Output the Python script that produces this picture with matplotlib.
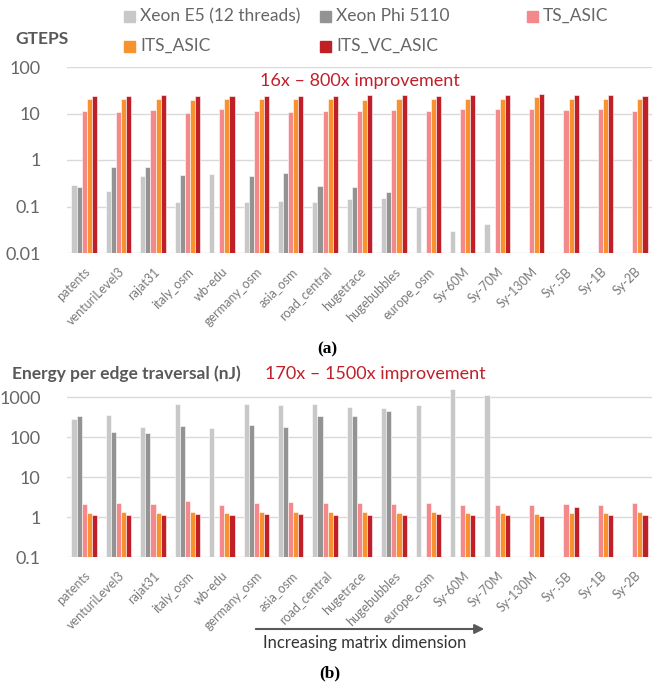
import numpy as np
import matplotlib
matplotlib.use("Agg")
import matplotlib.pyplot as plt
from matplotlib.patches import Rectangle

plt.rcParams['font.family'] = ['Lato', 'DejaVu Sans']

W, H = 654, 683

graphs = ['patents', 'venturiLevel3', 'rajat31', 'italy_osm', 'wb-edu', 'germany_osm',
          'asia_osm', 'road_central', 'hugetrace', 'hugebubbles', 'europe_osm',
          'Sy-60M', 'Sy-70M', 'Sy-130M', 'Sy-.5B', 'Sy-1B', 'Sy-2B']
series = ['Xeon E5 (12 threads)', 'Xeon Phi 5110', 'TS_ASIC', 'ITS_ASIC', 'ITS_VC_ASIC']
colors = ['#c8c8c8', '#939393', '#f4898b', '#f7922f', '#c01f28']

nan = np.nan
# throughput (GTEPS)
gteps_e5 = [0.29, 0.22, 0.46, 0.124, 0.50, 0.124, 0.13, 0.124, 0.144, 0.151, 0.097,
            0.029, 0.042, nan, nan, nan, nan]
gteps_phi = [0.26, 0.70, 0.72, 0.47, nan, 0.45, 0.52, 0.27, 0.265, 0.206, nan,
             nan, nan, nan, nan, nan, nan]
gteps_ts = [11.4, 11.0, 11.8, 10.3, 12.4, 11.2, 10.7, 11.2, 11.4, 11.8, 11.2,
            12.2, 12.2, 12.8, 11.8, 12.2, 11.4]
gteps_its = [20.3, 20.3, 20.3, 20.0, 20.3, 20.3, 20.3, 20.3, 20.0, 20.7, 20.7,
             21.0, 20.3, 22.1, 20.3, 20.3, 20.3]
gteps_vc = [24.0, 23.6, 24.4, 23.6, 24.0, 23.6, 23.6, 23.6, 24.4, 24.4, 23.6,
            24.8, 24.4, 26.1, 24.4, 24.4, 24.0]

# energy per edge traversal (nJ)
energy_e5 = [282, 361, 181, 681, 168, 656, 643, 668, 551, 531, 619,
             1585, 1122, nan, nan, nan, nan]
energy_phi = [341, 131, 126, 192, nan, 200, 175, 329, 341, 438, nan,
              nan, nan, nan, nan, nan, nan]
energy_ts = [2.15, 2.24, 2.07, 2.46, 2.0, 2.28, 2.42, 2.24, 2.24, 2.15, 2.24,
             2.0, 2.0, 1.95, 2.1, 2.0, 2.24]
energy_its = [1.26, 1.31, 1.26, 1.36, 1.26, 1.36, 1.36, 1.33, 1.33, 1.28, 1.33,
              1.26, 1.26, 1.19, 1.28, 1.28, 1.33]
energy_vc = [1.12, 1.14, 1.12, 1.19, 1.12, 1.17, 1.17, 1.15, 1.14, 1.12, 1.17,
             1.10, 1.10, 1.06, 1.81, 1.12, 1.15]

GRAY = '#666666'
RED = '#c0202a'
SERIF = ['Liberation Serif', 'DejaVu Serif']


def fx(x):
    return x / W


def fy(y):
    return 1 - y / H


def axes_box(top_px, bottom_px):
    return [fx(67), fy(bottom_px), fx(652) - fx(67), (bottom_px - top_px) / H]


def draw_bars(ax, data, ylim, yticks, yticklabels):
    x = np.arange(len(graphs))
    w = 0.148
    for i, vals in enumerate(data):
        ax.bar(x + (i - 2) * w, vals, width=w, color=colors[i],
               edgecolor='white', linewidth=0.4, zorder=3)
    ax.set_yscale('log')
    ax.set_ylim(*ylim)
    ax.set_xlim(-0.5, len(graphs) - 0.5)
    ax.set_yticks(yticks)
    ax.set_yticklabels(yticklabels)
    ax.yaxis.set_minor_locator(matplotlib.ticker.NullLocator())
    ax.grid(axis='y', color='#d9d9d9', linewidth=1.0, zorder=0)
    for s in ax.spines.values():
        s.set_visible(False)
    ax.tick_params(axis='y', length=0, pad=19, labelsize=13, labelcolor=GRAY)
    ax.set_xticks(x)
    ax.set_xticklabels(graphs, rotation=45, ha='right', rotation_mode='anchor')
    ax.tick_params(axis='x', length=0, pad=9, labelsize=9, labelcolor='#7a7a7a')


fig = plt.figure(figsize=(W / 100, H / 100), dpi=100)

ax1 = fig.add_axes(axes_box(67, 253))
draw_bars(ax1, [gteps_e5, gteps_phi, gteps_ts, gteps_its, gteps_vc],
          (0.01, 100), [0.01, 0.1, 1, 10, 100], ['0.01', '0.1', '1', '10', '100'])

ax2 = fig.add_axes(axes_box(387.8, 557))
draw_bars(ax2, [energy_e5, energy_phi, energy_ts, energy_its, energy_vc],
          (0.1, 1700), [0.1, 1, 10, 100, 1000], ['0.1', '1', '10', '100', '1000'])

# legend laid out on a fixed grid
legend_pos = [(124, 16), (320, 16), (527, 16), (124, 46), (320, 46)]
for name, col, (lx, ly) in zip(series, colors, legend_pos):
    fig.add_artist(Rectangle((fx(lx), fy(ly + 5.5)), 11 / W, 11 / H,
                             transform=fig.transFigure, color=col))
    fig.text(fx(lx + 16), fy(ly), name, fontsize=12.5, color=GRAY, va='center')

fig.text(fx(15), fy(39), 'GTEPS', fontsize=12.5, fontweight='bold', color='#595959',
         va='center')
fig.text(fx(360), fy(81), '16x \u2013 800x improvement', fontsize=13, color=RED,
         ha='center', va='center')
fig.text(fx(327), fy(349), '(a)', fontsize=12.5, fontweight='bold',
         family=SERIF, ha='center', va='center')

fig.text(fx(12), fy(374), 'Energy per edge traversal (nJ)', fontsize=12.5,
         fontweight='bold', color='#595959', va='center')
fig.text(fx(265), fy(374), '170x \u2013 1500x improvement', fontsize=13, color=RED,
         va='center')

fig.add_artist(matplotlib.patches.FancyArrowPatch(
    (fx(253), fy(629)), (fx(487), fy(629)), transform=fig.transFigure,
    arrowstyle='-|>', mutation_scale=14, color='#595959', linewidth=1.5))
fig.text(fx(365), fy(643), 'Increasing matrix dimension', fontsize=12, color='#333333',
         ha='center', va='center')
fig.text(fx(330), fy(673), '(b)', fontsize=12.5, fontweight='bold',
         family=SERIF, ha='center', va='center')

fig.savefig('out.png', dpi=100)
